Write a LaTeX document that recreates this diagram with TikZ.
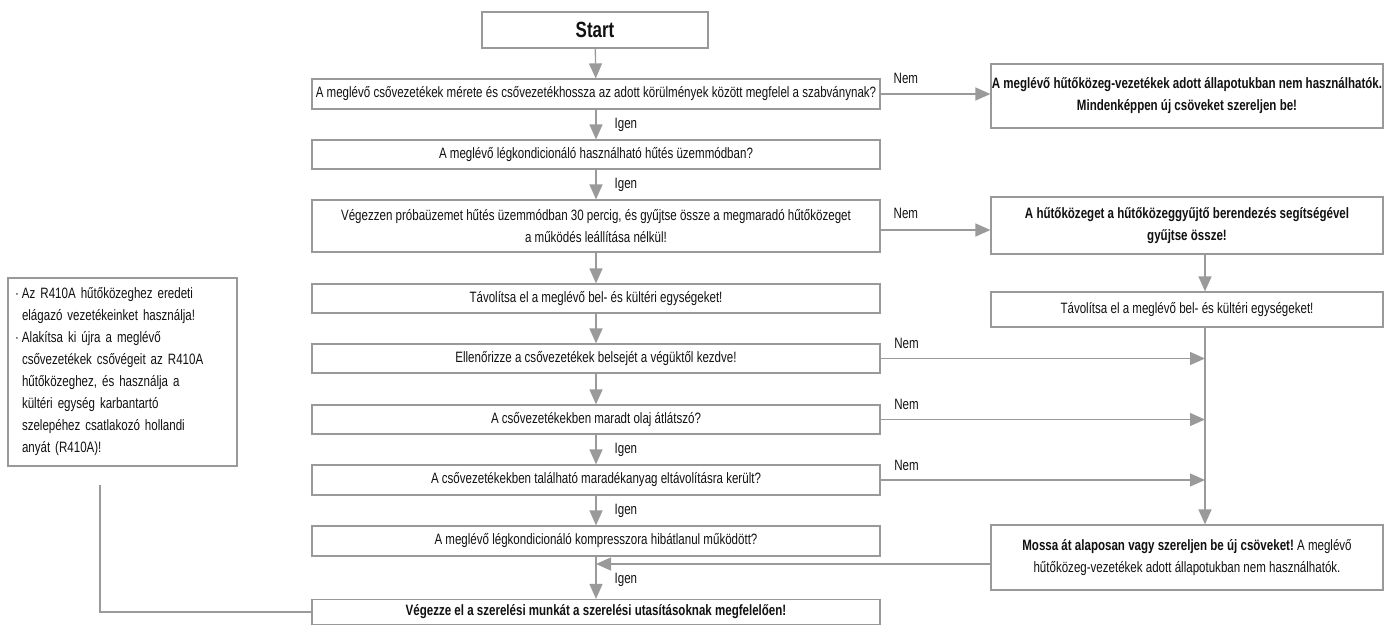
\documentclass[tikz,border=0pt]{standalone}
\usepackage{fontspec}
\setmainfont{Liberation Sans}[FakeStretch=0.77]
\usetikzlibrary{arrows.meta,calc}
\definecolor{boxgray}{HTML}{999999}
\definecolor{linegray}{HTML}{9A9A9A}
\definecolor{txt}{HTML}{111111}
\newcommand{\fs}{\fontsize{15}{22}\selectfont}
\begin{document}
\begin{tikzpicture}[x=1pt,y=-1pt,
  mbox/.style={draw=boxgray, line width=1.2pt, fill=white, minimum width=568pt, inner sep=0pt, align=center, font=\fs, text=txt},
  rbox/.style={draw=boxgray, line width=1.2pt, fill=white, minimum width=392pt, inner sep=0pt, align=center, font=\fs, text=txt},
  arr/.style={draw=linegray, line width=1.3pt, -{Triangle[width=13pt,length=15pt]}},
  conn/.style={draw=linegray, line width=1.3pt},
  lbl/.style={font=\fs, text=txt, inner sep=0pt}]
\useasboundingbox (0,0) rectangle (1386,625);
% main column
\node[mbox, minimum width=226pt, minimum height=36pt, font=\fontsize{22}{24}\selectfont\bfseries] (start) at (595,30) {Start};
\node[mbox, minimum height=30pt] (b1) at (596,94) {A meglévő csővezetékek mérete és csővezetékhossza az adott körülmények között megfelel a szabványnak?};
\node[mbox, minimum height=29pt] (b2) at (596,154.5) {A meglévő légkondicionáló használható hűtés üzemmódban?};
\node[mbox, minimum height=52pt] (b3) at (596,226) {Végezzen próbaüzemet hűtés üzemmódban 30 percig, és gyűjtse össze a megmaradó hűtőközeget\\a működés leállítása nélkül!};
\node[mbox, minimum height=29pt] (b4) at (596,298.5) {Távolítsa el a meglévő bel- és kültéri egységeket!};
\node[mbox, minimum height=29pt] (b5) at (596,358.5) {Ellenőrizze a csővezetékek belsejét a végüktől kezdve!};
\node[mbox, minimum height=29pt] (b6) at (596,419.5) {A csővezetékekben maradt olaj átlátszó?};
\node[mbox, minimum height=30pt] (b7) at (596,480) {A csővezetékekben található maradékanyag eltávolításra került?};
\node[mbox, minimum height=30pt] (b8) at (596,541) {A meglévő légkondicionáló kompresszora hibátlanul működött?};
\node[mbox, minimum height=25pt, font=\fs\bfseries] (b9) at (596,612) {Végezze el a szerelési munkát a szerelési utasításoknak megfelelően!};
% right column
\node[rbox, minimum height=64pt, font=\fs\bfseries] (r1) at (1187,96) {A meglévő hűtőközeg-vezetékek adott állapotukban nem használhatók.\\Mindenképpen új csöveket szereljen be!};
\node[rbox, minimum height=57pt, font=\fs\bfseries] (r2) at (1187,225.5) {A hűtőközeget a hűtőközeggyűjtő berendezés segítségével\\gyűjtse össze!};
\node[rbox, minimum height=35pt] (r3) at (1187,309.5) {Távolítsa el a meglévő bel- és kültéri egységeket!};
\node[rbox, minimum height=65pt] (r4) at (1187,557.5) {\textbf{Mossa át alaposan vagy szereljen be új csöveket!}~A meglévő\\hűtőközeg-vezetékek adott állapotukban nem használhatók.};
% left note
\node[draw=boxgray, line width=1.2pt, fill=white, minimum width=229pt, minimum height=188pt, inner sep=0pt, font=\fs, text=txt, align=left, text width=215pt] (note) at (122.5,372) {%
\makebox[7pt][l]{·}Az R410A hűtőközeghez eredeti\\
\hspace*{7pt}elágazó vezetékeinket használja!\\
\makebox[7pt][l]{·}Alakítsa ki újra a meglévő\\
\hspace*{7pt}csővezetékek csővégeit az R410A\\
\hspace*{7pt}hűtőközeghez, és használja a\\
\hspace*{7pt}kültéri egység karbantartó\\
\hspace*{7pt}szelepéhez csatlakozó hollandi\\
\hspace*{7pt}anyát (R410A)!};
% helper coordinates
\coordinate (vl) at (1205,0);
\coordinate (ml) at (596,0);
\coordinate (nt) at (100,485);
\coordinate (ncorner) at (100,612);
% main arrows
\draw[arr] (start) -- (b1);
\draw[arr] (b1) -- node[lbl, anchor=west, xshift=18pt]{Igen} (b2);
\draw[arr] (b2) -- node[lbl, anchor=west, xshift=18pt]{Igen} (b3);
\draw[arr] (b3) -- (b4);
\draw[arr] (b4) -- (b5);
\draw[arr] (b5) -- (b6);
\draw[arr] (b6) -- node[lbl, anchor=west, xshift=18pt]{Igen} (b7);
\draw[arr] (b7) -- node[lbl, anchor=west, xshift=18pt]{Igen} (b8);
\draw[arr] (b8.south) -- node[lbl, anchor=west, xshift=18pt, pos=0.56]{Igen} (b9.north);
% Nem branches
\draw[arr] (b1.east) -- node[lbl, pos=0.23, yshift=16pt]{Nem} (b1.east -| r1.west);
\draw[arr] ([yshift=-4pt]b3.east) -- node[lbl, pos=0.23, yshift=17pt]{Nem} ([yshift=-4pt]b3.east -| r2.west);
\draw[arr] (r2.south -| vl) -- (r3.north -| vl);
\draw[arr] (r3.south -| vl) -- (r4.north -| vl);
\draw[arr] (b5.east) -- node[lbl, pos=0.08, yshift=15pt]{Nem} (b5.east -| vl);
\draw[arr] (b6.east) -- node[lbl, pos=0.08, yshift=15pt]{Nem} (b6.east -| vl);
\draw[arr] (b7.east) -- node[lbl, pos=0.08, yshift=15pt]{Nem} (b7.east -| vl);
\draw[arr] ([yshift=-6.5pt]r4.west) -- ([yshift=-6.5pt]r4.west -| ml);
% note connector
\draw[conn] (nt) -- (ncorner) -- (b9.west);
\end{tikzpicture}
\end{document}
